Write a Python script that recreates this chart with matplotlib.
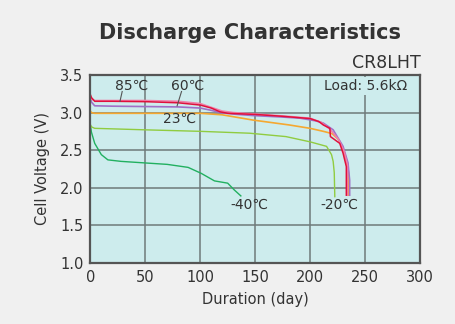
import matplotlib
matplotlib.use("Agg")
import matplotlib.pyplot as plt

# ---- data ----
x_85 = [0, 1, 4, 20, 50, 80, 100, 110, 118, 125, 150, 175, 200, 208, 212, 218, 218.5, 227, 230, 233, 233]
v_85 = [3.24, 3.20, 3.15, 3.15, 3.145, 3.13, 3.10, 3.06, 3.01, 2.99, 2.975, 2.95, 2.92, 2.88, 2.835, 2.79, 2.68, 2.59, 2.46, 2.28, 1.90]

x_85b = [0, 1, 4, 20, 50, 80, 100, 112, 120, 130, 150, 175, 200, 210, 218, 226, 231, 234, 234]
v_85b = [3.22, 3.18, 3.16, 3.16, 3.16, 3.15, 3.12, 3.06, 3.02, 3.00, 2.98, 2.955, 2.925, 2.87, 2.78, 2.64, 2.48, 2.30, 1.90]

x_60 = [0, 1, 4, 20, 50, 80, 100, 110, 118, 130, 148, 175, 191, 205, 212, 221, 230, 234.5, 236, 236]
v_60 = [3.20, 3.14, 3.09, 3.085, 3.08, 3.075, 3.06, 3.03, 3.00, 2.98, 2.96, 2.94, 2.925, 2.89, 2.86, 2.77, 2.55, 2.33, 2.10, 1.90]

x_23 = [0, 1, 4, 50, 100, 120, 148, 181, 200, 212, 220, 226, 230, 233, 235, 235]
v_23 = [3.02, 3.00, 2.99, 2.99, 2.99, 2.97, 2.90, 2.835, 2.79, 2.75, 2.72, 2.64, 2.52, 2.37, 2.20, 1.90]

x_m20 = [0, 1, 4, 50, 100, 145, 178, 200, 215, 219.5, 221, 222, 222.5]
v_m20 = [2.84, 2.81, 2.79, 2.77, 2.75, 2.725, 2.68, 2.61, 2.55, 2.44, 2.35, 2.20, 1.88]

x_m40 = [0, 1, 4, 10, 16, 28, 49, 70, 89, 101, 113, 125, 131, 137]
v_m40 = [2.84, 2.74, 2.59, 2.44, 2.37, 2.35, 2.33, 2.31, 2.27, 2.19, 2.09, 2.06, 1.97, 1.89]

x_ticks = [0, 50, 100, 150, 200, 250, 300]
y_ticks = [1.0, 1.5, 2.0, 2.5, 3.0, 3.5]

# ---- figure ----
fig = plt.figure(figsize=(4.55, 3.24), dpi=100, facecolor="#f0f0f0")
ax = fig.add_axes([0.1985, 0.189, 0.7245, 0.5795])
ax.set_facecolor("#cdeced")

ax.plot(x_m40, v_m40, color="#22b060", lw=1.0)
ax.plot(x_m20, v_m20, color="#90cc40", lw=1.0)
ax.plot(x_23, v_23, color="#f5a830", lw=1.2)
ax.plot(x_60, v_60, color="#a070c8", lw=1.2)
ax.plot(x_85b, v_85b, color="#f080a8", lw=1.2)
ax.plot(x_85, v_85, color="#e0103c", lw=1.1)

ax.set_xlim(0, 300)
ax.set_ylim(1.0, 3.5)
ax.set_xticks(x_ticks)
ax.set_yticks(y_ticks)
ax.set_xticklabels([str(t) for t in x_ticks])
ax.set_yticklabels([f"{t:.1f}" for t in y_ticks])
ax.tick_params(length=0, labelsize=10.5, labelcolor="#333333", pad=5)
ax.grid(True, color="#6f7a7a", lw=1.1)
ax.set_axisbelow(True)
for s in ax.spines.values():
    s.set_color("#555555")
    s.set_linewidth(1.6)

ax.set_xlabel("Duration (day)", fontsize=10.5, color="#333333", labelpad=5)
ax.set_ylabel("Cell Voltage (V)", fontsize=10.5, color="#333333", labelpad=7)

fig.text(0.55, 0.897, "Discharge Characteristics", ha="center", va="center",
         fontsize=15, fontweight="bold", color="#333333")
fig.text(0.925, 0.806, "CR8LHT", ha="right", va="center", fontsize=12.5, color="#333333")

ax.text(0.96, 0.94, "Load: 5.6kΩ", transform=ax.transAxes, ha="right", va="center",
        fontsize=10, color="#333333",
        bbox=dict(boxstyle="square,pad=0.15", fc="#cdeced", ec="none"))

lab = dict(fontsize=10, color="#333333", ha="center", va="center")
ax.text(37.5, 3.36, "85℃", **lab)
ax.plot([29, 27], [3.28, 3.15], color="#555555", lw=0.8)
ax.text(89, 3.36, "60℃", **lab)
ax.plot([83, 79], [3.28, 3.09], color="#555555", lw=0.8)
ax.text(81, 2.91, "23℃", **lab)
ax.text(145, 1.77, "-40℃", **lab)
ax.text(227, 1.77, "-20℃", **lab)

fig.savefig("out.png", dpi=100, facecolor=fig.get_facecolor())
